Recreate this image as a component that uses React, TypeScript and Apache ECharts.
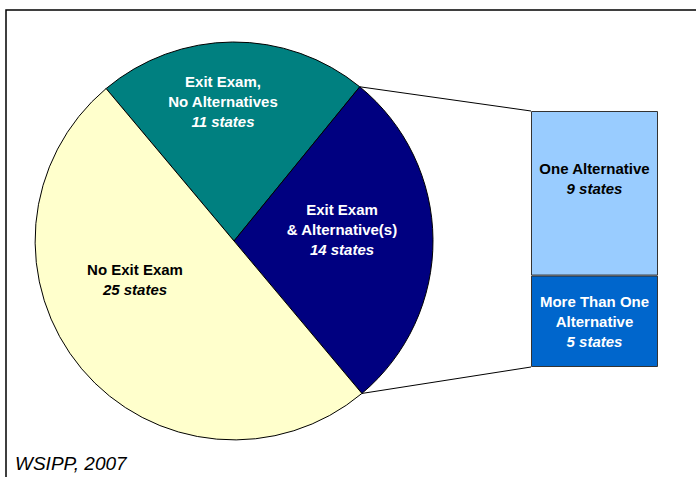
import React, { useEffect, useRef } from "react";
import * as echarts from "echarts";

// ---- data ----
const pieNames = ["Exit Exam,\nNo Alternatives", "Exit Exam\n& Alternative(s)", "No Exit Exam"];
const pieValues = [11, 14, 25];
const pieColors = ["#008080", "#000080", "#FFFFCC"];
const pieTextColors = ["#FFFFFF", "#FFFFFF", "#000000"];

const barNames = ["More Than One\nAlternative", "One Alternative"];
const barValues = [5, 9];
const barColors = ["#0066CC", "#99CCFF"];
const barTextColors = ["#FFFFFF", "#000000"];

const sourceNote = "WSIPP, 2007";

// ---- layout ----
const W = 696;
const H = 477;
const CX = 234;
const CY = 241;
const R = 199;
const START = 130;
const BAR_LEFT = 531;
const BAR_TOP = 111;
const BAR_W = 127;
const BAR_H = 256;
const FONT = "'Liberation Sans', Arial, sans-serif";
const pieLabelPos = [
  [223, 101],
  [342, 229],
  [135, 279],
];

function richFor(color: string) {
  return {
    b: { fontFamily: FONT, fontSize: 15, fontWeight: "bold", color, lineHeight: 20 },
    i: { fontFamily: FONT, fontSize: 15, fontWeight: "bold", fontStyle: "italic", color, lineHeight: 20 },
  };
}

function labelText(name: string, value: number) {
  return name
    .split("\n")
    .map((l) => `{b|${l}}`)
    .concat([`{i|${value} states}`])
    .join("\n");
}

export default function App() {
  const ref = useRef<HTMLDivElement>(null);

  useEffect(() => {
    document.body.style.margin = "0";
    if (!ref.current) return;
    const chart = echarts.init(ref.current, null, { renderer: "svg" });

    const total = pieValues.reduce((a, b) => a + b, 0);
    const a1 = ((START - (pieValues[0] / total) * 360) * Math.PI) / 180;
    const a2 = ((START - ((pieValues[0] + pieValues[1]) / total) * 360) * Math.PI) / 180;
    const p1 = [CX + R * Math.cos(a1), CY - R * Math.sin(a1)];
    const p2 = [CX + R * Math.cos(a2), CY - R * Math.sin(a2)];
    const barTotal = barValues.reduce((a, b) => a + b, 0);

    chart.setOption({
      animation: false,
      backgroundColor: "#FFFFFF",
      grid: { left: BAR_LEFT, top: BAR_TOP, width: BAR_W, height: BAR_H },
      xAxis: { type: "category", data: ["bar"], show: false },
      yAxis: { type: "value", min: 0, max: barTotal, show: false },
      graphic: [
        {
          type: "polyline",
          shape: { points: [[6, H + 5], [6, 10], [W + 5, 10]] },
          style: { stroke: "#000", lineWidth: 1.5, fill: null },
          z: 10,
        },
        {
          type: "line",
          shape: { x1: p1[0], y1: p1[1], x2: BAR_LEFT, y2: BAR_TOP },
          style: { stroke: "#000", lineWidth: 1 },
        },
        {
          type: "line",
          shape: { x1: p2[0], y1: p2[1], x2: BAR_LEFT, y2: BAR_TOP + BAR_H },
          style: { stroke: "#000", lineWidth: 1 },
        },
        {
          type: "text",
          left: 15,
          top: 454,
          style: {
            text: sourceNote,
            font: `italic 19px ${FONT}`,
            fill: "#000",
          },
        },
      ],
      series: [
        {
          type: "pie",
          center: [CX, CY],
          radius: R,
          startAngle: START,
          clockwise: true,
          silent: true,
          itemStyle: { borderColor: "#000", borderWidth: 1 },
          labelLine: { show: false },
          label: {
            show: true,
            position: "inside",
            align: "center",
            verticalAlign: "middle",
          },
          labelLayout: (params: any) => ({
            x: pieLabelPos[params.dataIndex][0],
            y: pieLabelPos[params.dataIndex][1],
            align: "center",
            verticalAlign: "middle",
          }),
          data: pieNames.map((n, i) => ({
            name: n,
            value: pieValues[i],
            itemStyle: { color: pieColors[i] },
            label: {
              formatter: labelText(n, pieValues[i]),
              rich: richFor(pieTextColors[i]),
            },
          })),
        },
        ...barNames.map((n, i) => ({
          type: "bar",
          name: n,
          stack: "alt",
          barWidth: "100%",
          silent: true,
          data: [barValues[i]],
          itemStyle: { color: barColors[i], borderColor: "#333", borderWidth: 1 },
          label: {
            show: true,
            position: "inside",
            offset: i === 1 ? [0, -15] : [0, 0],
            align: "center",
            formatter: labelText(n, barValues[i]),
            rich: richFor(barTextColors[i]),
          },
        })),
      ],
    });

    return () => chart.dispose();
  }, []);

  return <div ref={ref} style={{ width: W, height: H }} />;
}
